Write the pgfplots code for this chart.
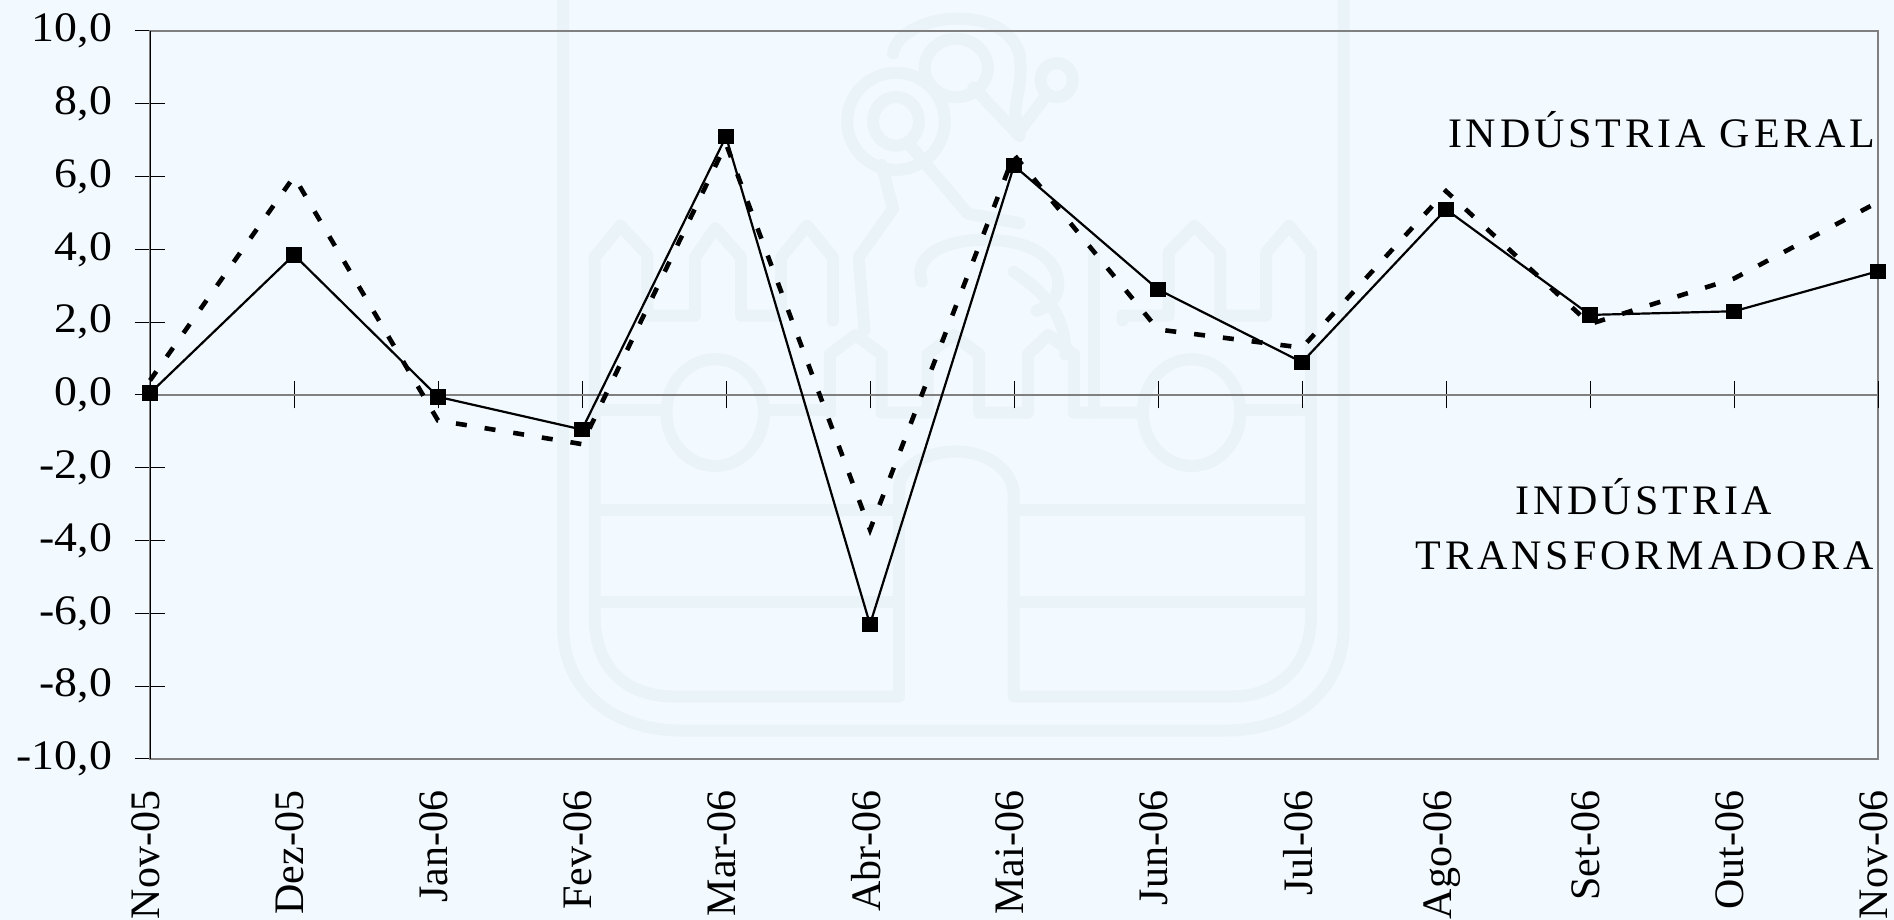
\documentclass[border=0pt]{standalone}
\usepackage{pgfplots}
\pgfplotsset{compat=1.18}
\usepackage{fontspec}
\setmainfont{Liberation Serif}
\definecolor{bgc}{HTML}{F3FAFF}
\definecolor{wm}{HTML}{EAF3F8}
\definecolor{fr}{HTML}{808080}
\begin{document}
\begin{tikzpicture}[x=0.5pt,y=0.5pt]
\useasboundingbox (0,0) rectangle (1894,920);
\fill[bgc] (0,0) rectangle (1894,920);
\begin{scope}
\clip (0,0) rectangle (1894,920);
\begin{scope}[shift={(520,920)},x=0.287pt,y=-0.2427pt,wm,line width=6pt,line join=round,line cap=round]
 % outer shield
 \draw (75,-30) -- (75,1290) .. controls (75,1430) and (170,1505) .. (280,1505) -- (1230,1505) .. controls (1340,1505) and (1435,1430) .. (1435,1290) -- (1435,-30);
 % inner shield
 \draw (130,530) -- (130,1270) .. controls (130,1370) and (180,1435) .. (270,1435) -- (660,1435) -- (660,1010) .. controls (660,960) and (710,930) .. (760,930) .. controls (815,930) and (860,970) .. (860,1020) -- (860,1435) -- (1240,1435) .. controls (1320,1435) and (1378,1370) .. (1378,1270) -- (1378,530);
 % bands
 \draw (135,1050) -- (660,1050) (860,1050) -- (1372,1050);
 \draw (135,1240) -- (660,1240) (860,1240) -- (1372,1240);
 % towers left
 \draw (130,530) -- (175,465) -- (222,525) -- (222,650) -- (305,650) -- (305,530) -- (340,470) -- (385,530) -- (385,650) -- (455,650) -- (455,530) -- (500,465) -- (545,530) -- (545,660);
 % towers right
 \draw (1050,660) -- (1050,650) -- (1130,650) -- (1130,520) -- (1175,465) -- (1220,520) -- (1220,650) -- (1300,650) -- (1300,520) -- (1340,465) -- (1378,520);
 % lower towers
 \draw (540,850) -- (540,730) -- (585,690) -- (630,730) -- (630,850) -- (710,850) -- (710,730) -- (755,690) -- (800,730) -- (800,850) -- (885,850) -- (885,730) -- (920,690) -- (965,730) -- (965,850) -- (1080,850);
 \draw (1000,500) -- (1000,850);
 % gate line and circles
 \draw (130,845) -- (255,845) (430,845) -- (540,845) (1265,845) -- (1378,845);
 \draw (340,850) ellipse [x radius=85,y radius=110];
 \draw (1170,850) ellipse [x radius=85,y radius=110];
 % figure
 \draw (655,250) ellipse [x radius=85,y radius=100];
 \draw (655,250) ellipse [x radius=40,y radius=50];
 \draw (760,140) ellipse [x radius=55,y radius=60];
 \draw (935,165) ellipse [x radius=28,y radius=35];
 \draw (650,110) .. controls (660,30) and (840,0) .. (870,110) .. controls (880,190) and (850,220) .. (870,270);
 \draw (870,270) -- (915,200);
 \draw (790,180) -- (870,280);
 \draw (630,340) -- (650,430) -- (590,530) -- (600,680);
 \draw (680,300) -- (780,440) -- (870,460);
 \draw (700,580) .. controls (680,510) and (780,480) .. (860,500) .. controls (950,520) and (960,620) .. (900,640);
 \draw (860,560) .. controls (940,620) and (950,680) .. (950,730);
\end{scope}
\end{scope}
\begin{axis}[
  at={(75pt,80.5pt)},anchor=south west,scale only axis,width=864pt,height=364pt,
  xmin=0,xmax=12,ymin=-10,ymax=10,
  axis line style={fr,line width=1.2pt},
  xtick={0,...,12},
  xticklabels={Nov-05,Dez-05,Jan-06,Fev-06,Mar-06,Abr-06,Mai-06,Jun-06,Jul-06,Ago-06,Set-06,Out-06,Nov-06},
  xticklabel style={rotate=90,anchor=east,font=\fontsize{21}{21}\selectfont,text=black,inner sep=0pt,xshift=-8pt,yshift=2pt},
  x tick style={draw=none},
  tick align=center,
  major tick length=15.5pt,
  ytick={-10,-8,...,10},
  ytick pos=left,
  yticklabel style={font=\fontsize{21}{21}\selectfont\addfontfeature{FakeStretch=1.09},inner sep=0pt,xshift=-11pt},
  /pgf/number format/assume math mode=true,
  /pgf/number format/fixed,/pgf/number format/fixed zerofill,/pgf/number format/precision=1,/pgf/number format/use comma,
  y tick style={black,line width=0.5pt},
]
\end{axis}
\begin{axis}[
  at={(75pt,80.5pt)},anchor=south west,scale only axis,width=864pt,height=364pt,
  xmin=0,xmax=12,ymin=-10,ymax=10,clip=false,
  axis x line=middle,axis y line=left,
  x axis line style={fr,line width=1.2pt,-},
  y axis line style={black,line width=0.5pt,-},
  xtick={0,...,12},ytick=\empty,
  xticklabels={},
  tick align=center,
  major tick length=13.5pt,
  x tick style={black,line width=0.5pt},
]
\addplot[black,line width=2.3pt,dash pattern=on 5.5pt off 9pt] coordinates {
(0,0.4)(1,6.0)(2,-0.7)(3,-1.35)(4,6.9)(5,-3.7)(6,6.6)(7,1.8)(8,1.3)(9,5.6)(10,1.95)(11,3.2)(12,5.3)};
\addplot[black,line width=1.1pt,mark=square*,mark size=3.3pt,mark options={solid,fill=black}] coordinates {
(0,0.05)(1,3.85)(2,-0.05)(3,-0.95)(4,7.1)(5,-6.3)(6,6.3)(7,2.9)(8,0.9)(9,5.1)(10,2.2)(11,2.3)(12,3.4)};
\end{axis}
\node[anchor=base east,inner sep=0pt,font=\fontsize{21}{21}\selectfont\addfontfeature{LetterSpace=9.3}] at (1876,772) {INDÚSTRIA GERAL};
\node[anchor=base,inner sep=0pt,font=\fontsize{21}{21}\selectfont\addfontfeature{LetterSpace=9}] at (1644,405) {INDÚSTRIA};
\node[anchor=base east,inner sep=0pt,font=\fontsize{21}{21}\selectfont\addfontfeature{LetterSpace=9.5}] at (1874,350) {TRANSFORMADORA};
\end{tikzpicture}
\end{document}
